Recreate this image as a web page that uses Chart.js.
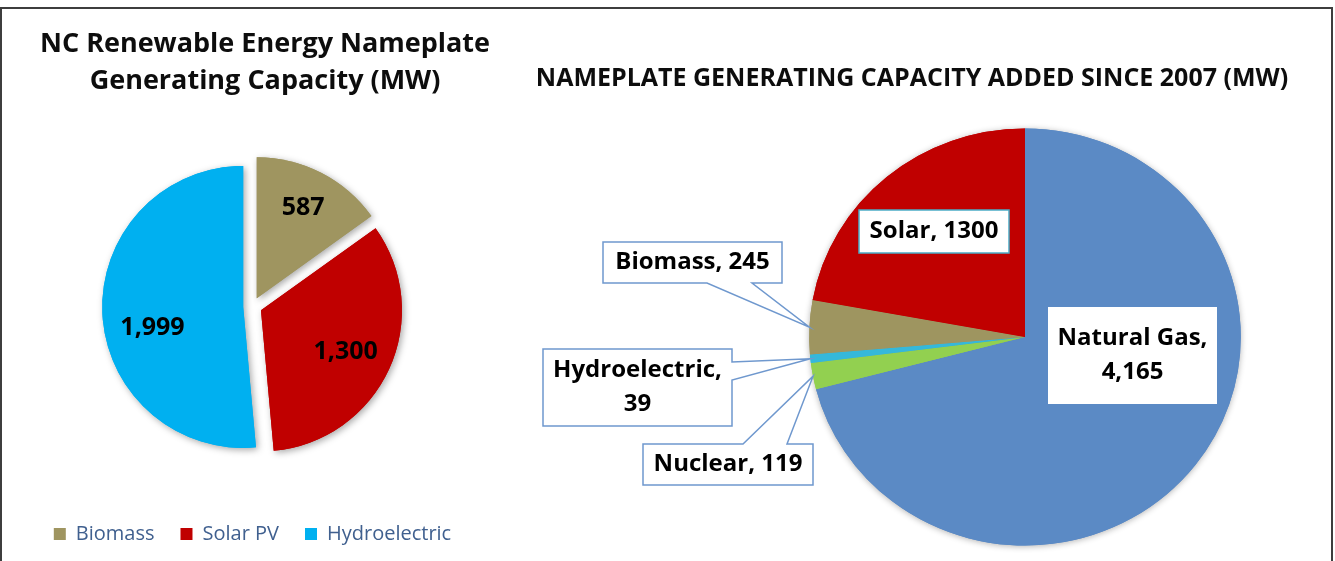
<!DOCTYPE html>
<html>
<head>
<meta charset="utf-8">
<script src="https://cdn.jsdelivr.net/npm/chart.js@4.4.1/dist/chart.umd.min.js"></script>
<style>
  html, body { margin: 0; padding: 0; background: #ffffff; }
  #wrap { position: relative; width: 1335px; height: 561px; overflow: hidden; background: #ffffff; }
  #wrap canvas { position: absolute; top: 0; }
  #left { left: 0; }
  #right { left: 520px; }
  #frame { position: absolute; left: 0; top: 7px; width: 1329px; height: 600px;
           border: 2px solid #3d3d3d; border-bottom: none; pointer-events: none; }
</style>
</head>
<body>
<div id="wrap">
  <canvas id="left" width="520" height="561"></canvas>
  <canvas id="right" width="815" height="561"></canvas>
  <div id="frame"></div>
</div>
<script>
// ---- NC renewable nameplate capacity (MW) ----
const renewTitle = ['NC Renewable Energy Nameplate', 'Generating Capacity (MW)'];
const renewCategories = ['Biomass', 'Solar PV', 'Hydroelectric'];
const renewCapacity = [587, 1300, 1999];
const renewColors = ['#9F9560', '#C00000', '#00B0F0'];

// ---- Capacity added since 2007 (MW), clockwise from 12 o'clock ----
const addedTitle = 'NAMEPLATE GENERATING CAPACITY ADDED SINCE 2007 (MW)';
const addedCategories = ['Natural Gas', 'Nuclear', 'Hydroelectric', 'Biomass', 'Solar'];
const addedCapacity = [4165, 119, 39, 245, 1300];
const addedColors = ['#5B8AC5', '#92D050', '#35B8DA', '#9E9560', '#C00000'];

const FONT = "'Open Sans', 'DejaVu Sans', sans-serif";
const EXPLODE_LEFT = 9.3;
const STRETCH_RIGHT = 1.035;

// Paints every slice of the pie: optional explode distance, horizontal stretch
// and a soft drop shadow (shadow pass first, clean pass on top).
function slicePainter(cfg) {
  return {
    id: 'slicePainter',
    beforeDatasetDraw(chart, args) {
      const ctx = chart.ctx;
      const arcs = args.meta.data;
      const pass = (withShadow) => arcs.forEach(arc => {
        const mid = (arc.startAngle + arc.endAngle) / 2;
        ctx.save();
        ctx.translate(arc.x, arc.y);
        ctx.scale(cfg.stretchX, 1);
        ctx.translate(Math.cos(mid) * cfg.explode, Math.sin(mid) * cfg.explode);
        ctx.translate(-arc.x, -arc.y);
        if (withShadow) {
          ctx.shadowColor = cfg.shadowColor;
          ctx.shadowBlur = cfg.shadowBlur;
          ctx.shadowOffsetX = cfg.shadowX;
          ctx.shadowOffsetY = cfg.shadowY;
        }
        arc.draw(ctx);
        ctx.restore();
      });
      pass(true);
      pass(false);
      return false;
    }
  };
}

function titlePainter(lines, font) {
  return {
    id: 'titlePainter',
    afterDraw(chart) {
      const ctx = chart.ctx;
      ctx.save();
      ctx.font = font;
      ctx.fillStyle = '#0d0d0d';
      ctx.textAlign = 'center';
      ctx.textBaseline = 'middle';
      lines.forEach(l => ctx.fillText(l.text, l.x, l.y));
      ctx.restore();
    }
  };
}

// Value labels inside the exploded slices (fraction of radius, angular nudge in radians)
const leftLabelPlacement = [
  { radius: 0.72, turn: 0 },
  { radius: 0.67, turn: 0.03 },
  { radius: 0.66, turn: -0.18 }
];
const leftLabels = {
  id: 'leftLabels',
  afterDatasetsDraw(chart) {
    const ctx = chart.ctx;
    const arcs = chart.getDatasetMeta(0).data;
    ctx.save();
    ctx.font = `bold 25px ${FONT}`;
    ctx.fillStyle = '#000000';
    ctx.textAlign = 'center';
    ctx.textBaseline = 'middle';
    arcs.forEach((arc, i) => {
      const mid = (arc.startAngle + arc.endAngle) / 2;
      const p = leftLabelPlacement[i];
      const ox = arc.x + Math.cos(mid) * EXPLODE_LEFT;
      const oy = arc.y + Math.sin(mid) * EXPLODE_LEFT;
      const a = mid + p.turn;
      const r = p.radius * arc.outerRadius;
      ctx.fillText(renewCapacity[i].toLocaleString('en-US'), ox + Math.cos(a) * r, oy + Math.sin(a) * r);
    });
    ctx.restore();
  }
};

new Chart(document.getElementById('left'), {
  type: 'pie',
  data: {
    labels: renewCategories,
    datasets: [{ data: renewCapacity, backgroundColor: renewColors, borderWidth: 0 }]
  },
  options: {
    responsive: false,
    animation: false,
    events: [],
    radius: 141,
    layout: { padding: { left: 0, right: 15, top: 115, bottom: 7 } },
    plugins: {
      legend: {
        position: 'bottom',
        labels: {
          boxWidth: 12, boxHeight: 12, padding: 26,
          color: '#40608F',
          font: { family: FONT, size: 20 }
        }
      },
      tooltip: { enabled: false }
    }
  },
  plugins: [
    slicePainter({ explode: EXPLODE_LEFT, stretchX: 1, shadowColor: 'rgba(0,0,0,0.35)', shadowBlur: 7, shadowX: 2, shadowY: 2 }),
    leftLabels,
    titlePainter([
      { text: renewTitle[0], x: 265, y: 44 },
      { text: renewTitle[1], x: 265, y: 81 }
    ], `bold 27px ${FONT}`)
  ]
});

// Label boxes for the second pie (canvas coordinates); callouts point at the slice edge
const addedLabelLayout = {
  'Natural Gas':   { x: 528, y: 307, w: 169, h: 97, lines: 2, border: null },
  'Solar':         { x: 339, y: 210, w: 150, h: 43, lines: 1, border: '#4BACC6', plain: true },
  'Biomass':       { x: 83,  y: 242, w: 179, h: 41, lines: 1, border: '#6F98CE', callout: { side: 'bottom', a: 187, b: 232 } },
  'Hydroelectric': { x: 23,  y: 349, w: 189, h: 77, lines: 2, border: '#6F98CE', callout: { side: 'right', a: 362, b: 380 } },
  'Nuclear':       { x: 123, y: 444, w: 170, h: 41, lines: 1, border: '#6F98CE', callout: { side: 'top', a: 223, b: 267 } }
};

function boxPath(ctx, b, tip) {
  const { x, y, w, h } = b;
  const c = b.callout;
  ctx.beginPath();
  ctx.moveTo(x, y);
  if (c && c.side === 'top') { ctx.lineTo(c.a, y); ctx.lineTo(tip.x, tip.y); ctx.lineTo(c.b, y); }
  ctx.lineTo(x + w, y);
  if (c && c.side === 'right') { ctx.lineTo(x + w, c.a); ctx.lineTo(tip.x, tip.y); ctx.lineTo(x + w, c.b); }
  ctx.lineTo(x + w, y + h);
  if (c && c.side === 'bottom') { ctx.lineTo(c.b, y + h); ctx.lineTo(tip.x, tip.y); ctx.lineTo(c.a, y + h); }
  ctx.lineTo(x, y + h);
  ctx.closePath();
}

const rightLabels = {
  id: 'rightLabels',
  afterDatasetsDraw(chart) {
    const ctx = chart.ctx;
    const arcs = chart.getDatasetMeta(0).data;
    ctx.save();
    ctx.font = `bold 24px ${FONT}`;
    ctx.textAlign = 'center';
    ctx.textBaseline = 'middle';
    arcs.forEach((arc, i) => {
      const name = addedCategories[i];
      const b = addedLabelLayout[name];
      const mid = (arc.startAngle + arc.endAngle) / 2;
      const tip = {
        x: arc.x + STRETCH_RIGHT * arc.outerRadius * Math.cos(mid),
        y: arc.y + arc.outerRadius * Math.sin(mid)
      };
      const value = b.plain ? String(addedCapacity[i]) : addedCapacity[i].toLocaleString('en-US');
      const lines = b.lines === 2 ? [name + ',', value] : [name + ', ' + value];
      boxPath(ctx, b, tip);
      ctx.fillStyle = '#ffffff';
      ctx.fill();
      if (b.border) {
        ctx.strokeStyle = b.border;
        ctx.lineWidth = 1.5;
        ctx.stroke();
      }
      ctx.fillStyle = '#000000';
      const lh = 34;
      const cx = b.x + b.w / 2;
      const cy = b.y + b.h / 2 - (lines.length - 1) * lh / 2;
      lines.forEach((t, k) => ctx.fillText(t, cx, cy + k * lh));
    });
    ctx.restore();
  }
};

new Chart(document.getElementById('right'), {
  type: 'pie',
  data: {
    labels: addedCategories,
    datasets: [{ data: addedCapacity, backgroundColor: addedColors, borderWidth: 0 }]
  },
  options: {
    responsive: false,
    animation: false,
    events: [],
    radius: 208.5,
    layout: { padding: { left: 195, right: 0, top: 113, bottom: 0 } },
    plugins: { legend: { display: false }, tooltip: { enabled: false } }
  },
  plugins: [
    slicePainter({ explode: 0, stretchX: STRETCH_RIGHT, shadowColor: 'rgba(0,0,0,0.3)', shadowBlur: 6, shadowX: 0, shadowY: 1 }),
    rightLabels,
    titlePainter([{ text: addedTitle, x: 392, y: 79 }], `bold 25px ${FONT}`)
  ]
});
</script>
</body>
</html>
